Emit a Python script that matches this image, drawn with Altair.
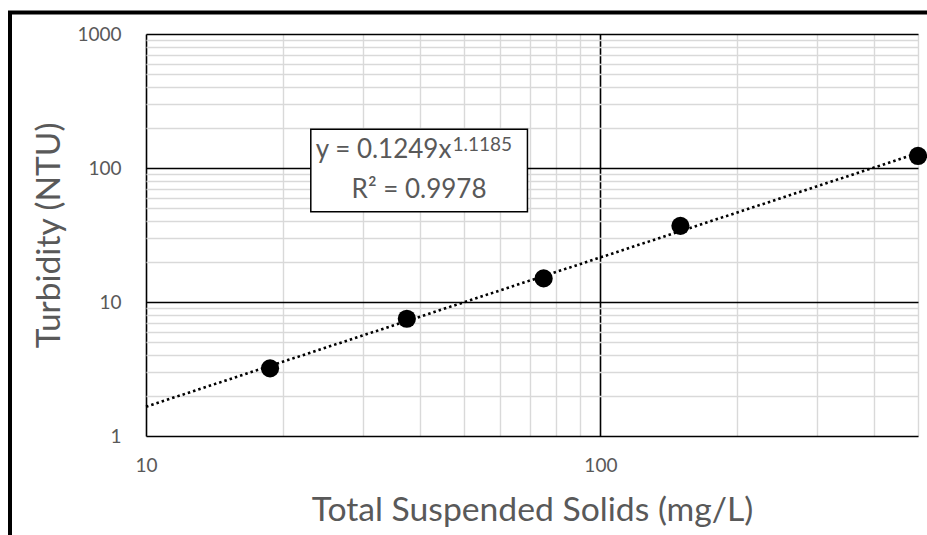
import altair as alt
import pandas as pd

# ---- data ----
tss = [18.75, 37.5, 75, 150, 500]          # Total Suspended Solids (mg/L)
turbidity = [3.2, 7.5, 15, 37, 123]        # Turbidity (NTU)

x_ticks = [10, 20, 30, 40, 50, 60, 70, 80, 90, 100, 200, 300, 400, 500]
y_ticks = [1, 2, 3, 4, 5, 6, 7, 8, 9,
           10, 20, 30, 40, 50, 60, 70, 80, 90,
           100, 200, 300, 400, 500, 600, 700, 800, 900, 1000]

eq_main = "y = 0.1249x"
eq_exp = "1.1185"
r2_text = "R² = 0.9978"

# annotation box in data units
box_x = [23.05, 69.1]
box_y = [47.2, 194.5]
eq_anchor_x = 47.0
eq_base_y = 118.8
exp_base_y = 133.5
r2_x = 39.9
r2_base_y = 59.7

GRAY = "#595959"
FONT = "Lato"

df = pd.DataFrame({"tss": tss, "ntu": turbidity})

major_x = "datum.value == 10 || datum.value == 100"
major_y = "datum.value == 1 || datum.value == 10 || datum.value == 100 || datum.value == 1000"

xs = alt.Scale(type="log", domain=[10, 500], nice=False)
ys = alt.Scale(type="log", domain=[1, 1000], nice=False)

xaxis = alt.Axis(
    title="Total Suspended Solids (mg/L)", values=x_ticks, format="d",
    labelExpr=f"({major_x}) ? datum.label : ''", labelOverlap=False, labelFlush=False,
    ticks=False, domain=False, grid=True,
    gridColor={"condition": {"test": major_x, "value": "black"}, "value": "#d9d9d9"},
    gridWidth={"condition": {"test": major_x, "value": 1.6}, "value": 1.4},
    labelFont=FONT, labelFontSize=19, labelColor=GRAY, labelPadding=20,
    titleFont=FONT, titleFontSize=33.7, titleColor=GRAY, titleFontWeight="normal",
    titlePadding=18,
)
yaxis = alt.Axis(
    title="Turbidity (NTU)", values=y_ticks, format="d",
    labelExpr=f"({major_y}) ? datum.label : ''", labelOverlap=False, labelFlush=False,
    ticks=False, domain=False, grid=True,
    gridColor={"condition": {"test": major_y, "value": "black"}, "value": "#d9d9d9"},
    gridWidth={"condition": {"test": major_y, "value": 1.6}, "value": 1.4},
    labelFont=FONT, labelFontSize=19, labelColor=GRAY, labelPadding=25,
    titleFont=FONT, titleFontSize=33.5, titleColor=GRAY, titleFontWeight="normal",
    titlePadding=10,
)

def X(field):
    return alt.X(field, scale=xs, axis=xaxis)

def Y(field):
    return alt.Y(field, scale=ys, axis=yaxis)

trend = alt.Chart(df).transform_regression(
    "tss", "ntu", method="pow", extent=[10, 500]
).mark_line(color="black", strokeDash=[2.5, 3], strokeWidth=2.6).encode(
    x=X("tss:Q"), y=Y("ntu:Q")
)

points = alt.Chart(df).mark_circle(color="black", opacity=1, size=330).encode(
    x=X("tss:Q"), y=Y("ntu:Q")
)

box_df = pd.DataFrame({"x": [box_x[0]], "x2": [box_x[1]], "y": [box_y[0]], "y2": [box_y[1]]})
box = alt.Chart(box_df).mark_rect(fill="white", stroke="black", strokeWidth=1.5).encode(
    x=X("x:Q"), x2="x2:Q", y=Y("y:Q"), y2="y2:Q"
)

eq_df = pd.DataFrame({"x": [eq_anchor_x], "y": [eq_base_y], "t": [eq_main]})
eq = alt.Chart(eq_df).mark_text(font=FONT, fontSize=26, color=GRAY, align="right",
                                baseline="alphabetic").encode(
    x=X("x:Q"), y=Y("y:Q"), text="t:N"
)
exp_df = pd.DataFrame({"x": [eq_anchor_x], "y": [exp_base_y], "t": [eq_exp]})
exp = alt.Chart(exp_df).mark_text(font=FONT, fontSize=19, color=GRAY, align="left",
                                  baseline="alphabetic", dx=1).encode(
    x=X("x:Q"), y=Y("y:Q"), text="t:N"
)
r2_df = pd.DataFrame({"x": [r2_x], "y": [r2_base_y], "t": [r2_text]})
r2 = alt.Chart(r2_df).mark_text(font=FONT, fontSize=26, color=GRAY, align="center",
                                baseline="alphabetic").encode(
    x=X("x:Q"), y=Y("y:Q"), text="t:N"
)

frame = alt.Chart(pd.DataFrame({"a": [0]})).mark_rect(
    fill="white", fillOpacity=0, stroke="black", strokeWidth=4
).encode(x=alt.value(-136), x2=alt.value(820), y=alt.value(-21.5), y2=alt.value(620))

chart = alt.layer(trend, points, box, eq, exp, r2, frame).properties(
    width=772, height=402,
    padding={"left": 146, "top": 34, "right": 9, "bottom": 99},
    autosize="none",
    background="white",
).configure_view(stroke="black", strokeWidth=2.5).configure(font=FONT)

chart.save("out.html", embed_options={"renderer": "svg", "actions": False})
